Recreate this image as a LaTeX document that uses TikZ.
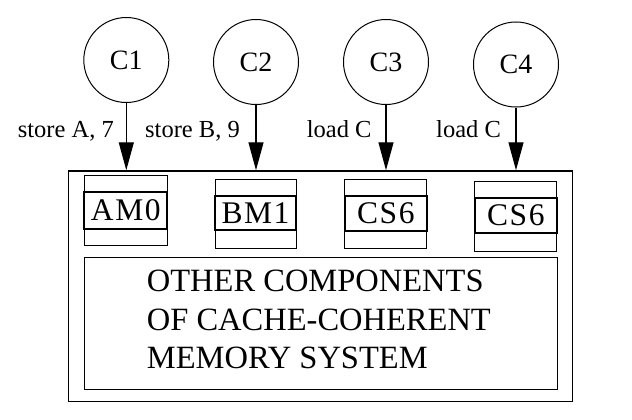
\documentclass[tikz,border=0pt]{standalone}
\usepackage{fontspec}
\setmainfont{Liberation Serif}
\usetikzlibrary{arrows.meta}
\begin{document}
\begin{tikzpicture}[x=1pt,y=-1pt,
  cpu/.style={draw,circle,line width=1pt,minimum size=85pt,inner sep=0pt,font=\fontsize{28}{30}\selectfont},
  lbl/.style={inner sep=0pt,font=\fontsize{24.5}{28}\selectfont},
  cbox/.style={draw,line width=1pt,inner sep=0pt},
  band/.style={draw,line width=1.8pt,inner sep=0pt,font=\fontsize{31.5}{34}\selectfont\addfontfeature{LetterSpace=5}},
  req/.style={line width=1.2pt,-{Triangle[length=28pt,width=15pt]}},
  frame/.style={draw,line width=1.5pt,inner sep=0pt}
]
\useasboundingbox (0,0) rectangle (632,420);
% outer system box and inner box
\node[frame,minimum width=504pt,minimum height=230.7pt] (outer) at (320.5,286.35) {};
\node[draw,line width=1.3pt,inner sep=0pt,minimum width=473pt,minimum height=131.6pt] (inner) at (320.8,323.5) {};
\node[inner sep=0pt,anchor=base west,align=left,font=\fontsize{32.5}{38.5}\selectfont] (txt) at (146.7,368.5)
  {OTHER COMPONENTS\\OF CACHE-COHERENT\\MEMORY SYSTEM};
% processors
\node[cpu] (c1) at (126.3,60) {C1};
\node[cpu] (c2) at (256,62) {C2};
\node[cpu] (c3) at (386,62) {C3};
\node[cpu] (c4) at (516,64.5) {C4};
% caches
\node[cbox,minimum width=83pt,minimum height=70.5pt] (k1) at (125.8,210.25) {};
\node[band,minimum width=83pt,minimum height=36.7pt] (b1) at (125.8,210.65) {AM0};
\node[cbox,minimum width=81pt,minimum height=69pt] (k2) at (255.5,213.5) {};
\node[band,minimum width=81pt,minimum height=34pt] (b2) at (255.5,213) {BM1};
\node[cbox,minimum width=81.7pt,minimum height=69pt] (k3) at (385.8,213.5) {};
\node[band,minimum width=81.7pt,minimum height=35pt] (b3) at (385.8,213.5) {CS6};
\node[cbox,minimum width=81.7pt,minimum height=70pt] (k4) at (515.8,216) {};
\node[band,minimum width=81.7pt,minimum height=34.4pt] (b4) at (515.8,215.5) {CS6};
% requests
\coordinate (e1) at (c1 |- outer.north);
\coordinate (e2) at (c2 |- outer.north);
\coordinate (e3) at (c3 |- outer.north);
\coordinate (e4) at (c4 |- outer.north);
\draw[req] (c1) -- (e1);
\draw[req] (c2) -- (e2);
\draw[req] (c3) -- (e3);
\draw[req] (c4) -- (e4);
\node[lbl,anchor=base east] (l1) at (114,137) {store A, 7};
\node[lbl,anchor=base west] (l2) at (145,137) {store B, 9};
\node[lbl,anchor=base east] (l3) at (371.7,137) {load C};
\node[lbl,anchor=base west] (l4) at (436,137) {load C};
\end{tikzpicture}
\end{document}
